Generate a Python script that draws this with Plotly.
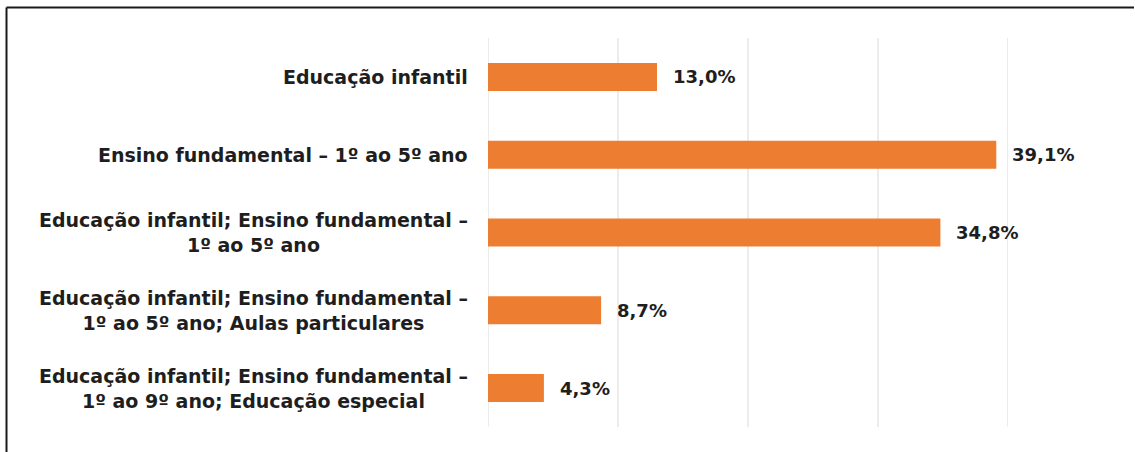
import plotly.graph_objects as go

# Levels of teaching reported (share of respondents, %)
categories = [
    "Educação infantil",
    "Ensino fundamental – 1º ao 5º ano",
    "Educação infantil; Ensino fundamental –<br>1º ao 5º ano",
    "Educação infantil; Ensino fundamental –<br>1º ao 5º ano; Aulas particulares",
    "Educação infantil; Ensino fundamental –<br>1º ao 9º ano; Educação especial",
]
values = [13.0, 39.1, 34.8, 8.7, 4.3]
grid_ticks = [0, 10, 20, 30, 40]

BAR_COLOR = "#ED7D31"
TEXT_COLOR = "#1e1e1e"
GRID_COLOR = "#d9d9d9"
FONT = "DejaVu Sans"

W, H = 1135, 452
L, R, T, B = 488, 127, 38, 25
plot_w = W - L - R
plot_h = H - T - B

fig = go.Figure(
    go.Bar(
        x=values,
        y=categories,
        orientation="h",
        marker=dict(color=BAR_COLOR, line=dict(width=0)),
        width=0.36,
        hoverinfo="skip",
    )
)

annotations = []
# category labels, centred line by line, to the left of the plot area
for cat in categories:
    annotations.append(dict(
        x=0, xref="paper", y=cat, yref="y",
        text=cat, showarrow=False,
        xanchor="right", yanchor="middle", align="center",
        xshift=-18,
        font=dict(family=FONT, size=19, color=TEXT_COLOR, weight="bold"),
    ))
# value labels at the end of each bar
for cat, v in zip(categories, values):
    annotations.append(dict(
        x=v, xref="x", y=cat, yref="y",
        text=f"{v:.1f}".replace(".", ",") + "%",
        showarrow=False, xanchor="left", yanchor="middle",
        xshift=14,
        font=dict(family=FONT, size=18, color=TEXT_COLOR, weight="bold"),
    ))

# vertical grid lines, including both ends of the value range
shapes = [
    dict(type="line", xref="x", yref="paper", x0=t, x1=t, y0=0, y1=1,
         layer="below", line=dict(color=GRID_COLOR, width=1))
    for t in grid_ticks
]

# frame lines along the top and left edges of the figure
x_left = (6.5 - L) / plot_w
y_top = 1 + (T - 7.5) / plot_h
y_bot = -(B + 2) / plot_h
x_right = 1 + (R - 1) / plot_w
shapes += [
    dict(type="line", xref="paper", yref="paper", x0=x_left, x1=x_right,
         y0=y_top, y1=y_top, line=dict(color="#1a1a1a", width=2)),
    dict(type="line", xref="paper", yref="paper", x0=x_left, x1=x_left,
         y0=y_top, y1=y_bot, line=dict(color="#1a1a1a", width=2)),
]

fig.update_layout(
    width=W, height=H,
    margin=dict(l=L, r=R, t=T, b=B),
    paper_bgcolor="white", plot_bgcolor="white",
    showlegend=False,
    annotations=annotations,
    shapes=shapes,
    xaxis=dict(
        range=[0, 40], showticklabels=False, showgrid=False,
        zeroline=False, showline=False, ticks="", fixedrange=True,
    ),
    yaxis=dict(
        categoryorder="array", categoryarray=categories,
        autorange="reversed", showticklabels=False,
        showgrid=False, zeroline=False, showline=False, ticks="",
        fixedrange=True,
    ),
)

fig.write_html("out.html", config={"displayModeBar": False})
